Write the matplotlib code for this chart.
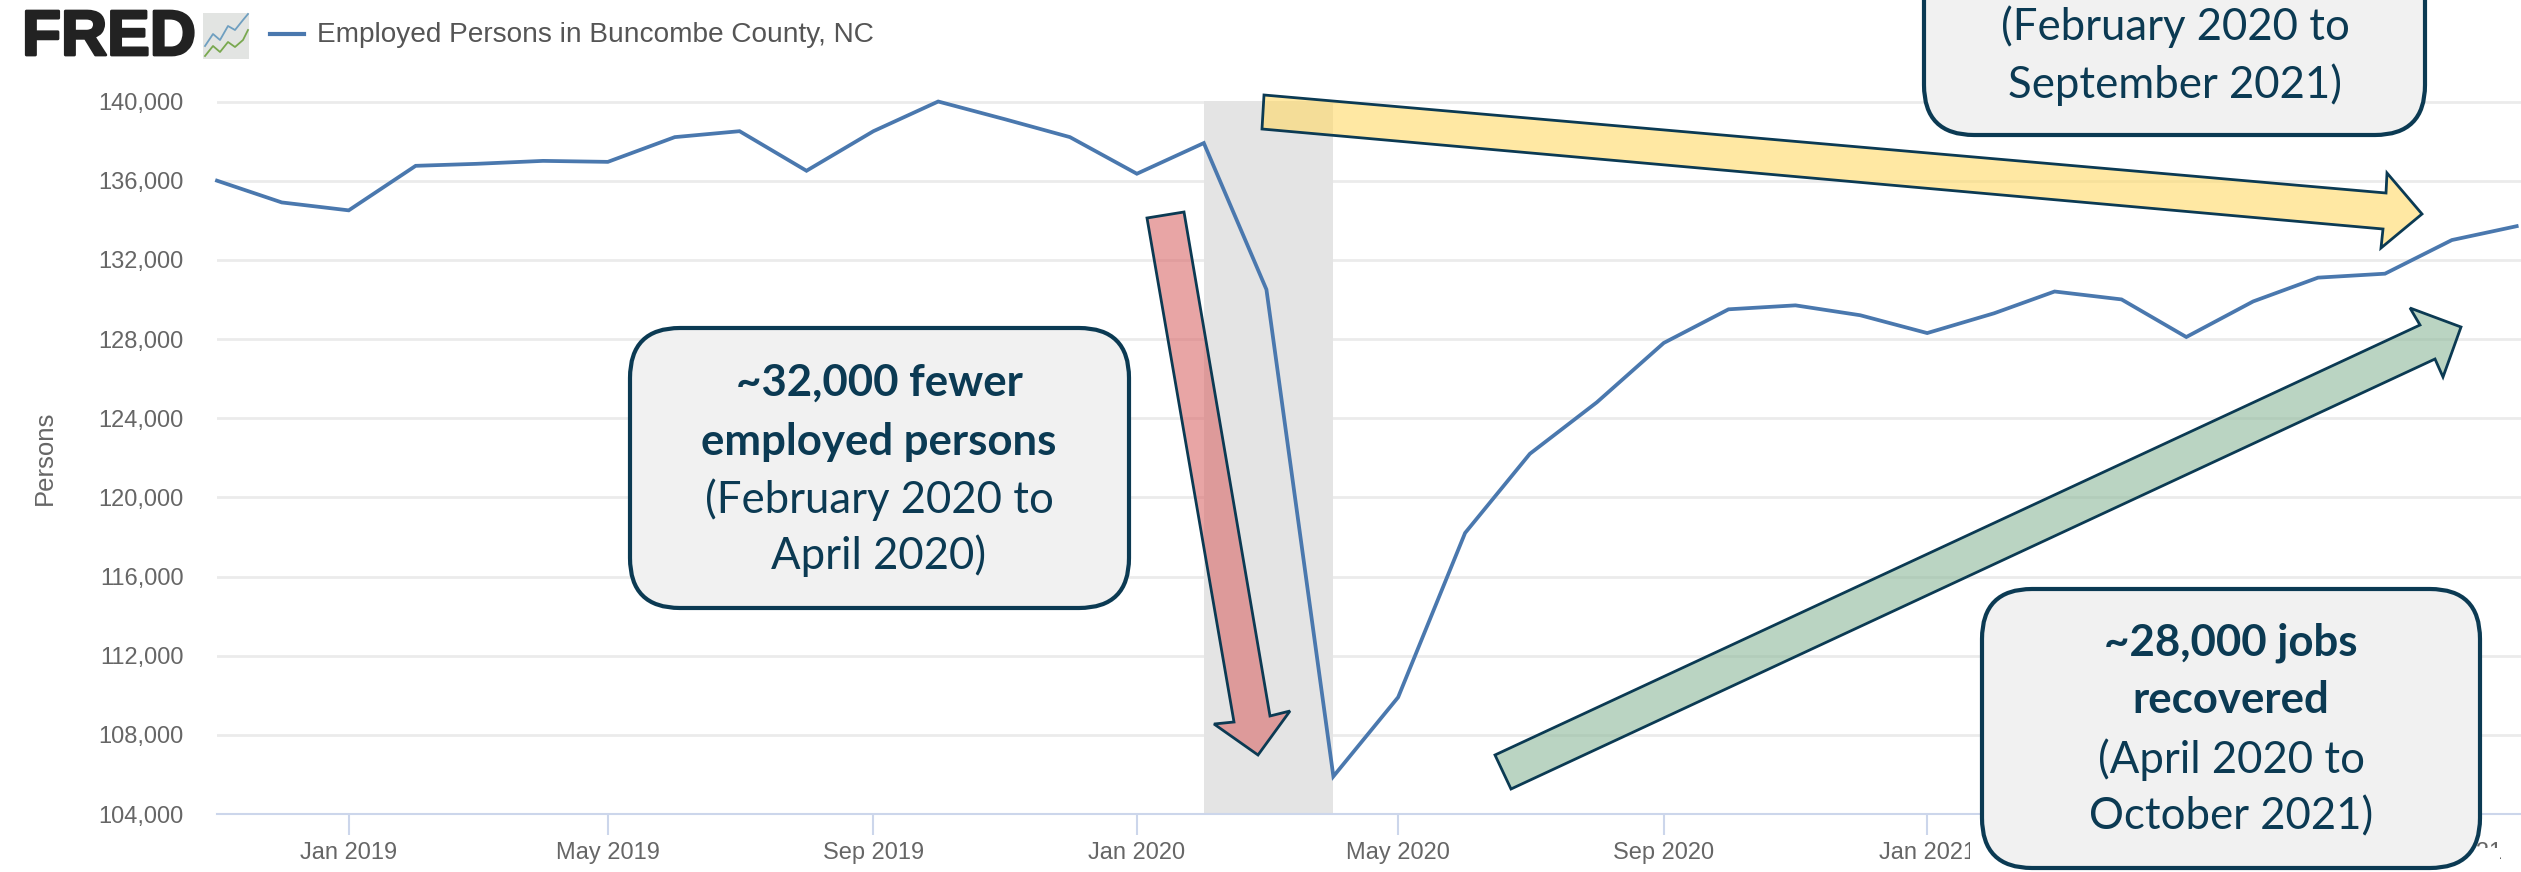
import matplotlib
matplotlib.use("Agg")
import matplotlib.pyplot as plt
import matplotlib.dates as mdates
import matplotlib.patheffects as pe
import pandas as pd
from matplotlib.patches import FancyBboxPatch, Polygon, Rectangle

W, H = 2521, 872

# monthly values, Nov 2018 - Oct 2021
months = pd.date_range("2018-11-01", "2021-10-01", freq="MS")
employed = [136000, 134900, 134500, 136750, 136850, 137000, 136950, 138200, 138500,
            136500, 138500, 140000, 139100, 138200, 136350, 137900, 130500, 105900,
            109900, 118200, 122200, 124800, 127800, 129500, 129700, 129200, 128300,
            129300, 130400, 130000, 128100, 129900, 131100, 131300, 133000, 133700]

y_ticks = list(range(104000, 140001, 4000))
x_ticks = pd.date_range("2019-01-01", "2021-09-01", freq="4MS")
recession = ("2020-02-01", "2020-04-01")

GRID = "#ebebeb"
AXIS = "#ccd6eb"
LINE = "#4a78ae"
TICK = "#666666"
NAVY = "#0b3a53"
BOX = "#f1f1f1"
sans = "Liberation Sans"
callout = "Lato"


def px(x, y):
    return x / W, 1 - y / H


fig = plt.figure(figsize=(W / 100, H / 100), dpi=100, facecolor="white")

# ---- chart
ax = fig.add_axes([217 / W, (H - 814) / H, (W - 217) / W, (814 - 101.5) / H])
ax.set_xlim(pd.Timestamp("2018-11-01"), pd.Timestamp("2021-10-03"))
ax.set_ylim(104000, 140000)
ax.set_axisbelow(True)
ax.grid(axis="y", color=GRID, lw=2)
ax.axvspan(pd.Timestamp(recession[0]), pd.Timestamp(recession[1]), color="#e4e4e4", lw=0, zorder=1.5)
ax.plot(months, employed, color=LINE, lw=2.7, zorder=3, clip_on=False, solid_joinstyle="miter")

for s in ["top", "right", "left"]:
    ax.spines[s].set_visible(False)
ax.spines["bottom"].set_color(AXIS)
ax.spines["bottom"].set_linewidth(1.5)

ax.set_yticks(y_ticks)
ax.set_yticklabels([f"{v:,}" for v in y_ticks], family=sans, fontsize=17, color=TICK)
ax.tick_params(axis="y", length=0, pad=24)
ax.set_xticks(x_ticks)
ax.xaxis.set_major_formatter(mdates.DateFormatter("%b %Y"))
ax.tick_params(axis="x", length=15, width=1.5, color=AXIS, pad=5, labelsize=17, labelcolor=TICK)
for t in ax.get_xticklabels():
    t.set_family(sans)

fig.text(*px(45, 458), "Persons", rotation=90, family=sans, fontsize=18.5, color=TICK, ha="center", va="center")

# ---- overlay in picture pixels: header, arrows, boxes
ov = fig.add_axes([0, 0, 1, 1], facecolor="none")
ov.set_xlim(0, W)
ov.set_ylim(H, 0)
ov.axis("off")

logo = ov.text(22, 38, "FRED", family=sans, weight="bold", fontsize=46, color="#222222", va="center", ha="left")
logo.set_path_effects([pe.withStroke(linewidth=2, foreground="#222222")])
ov.add_patch(Rectangle((203, 13), 46, 46, color="#e2e4e2", lw=0))
ov.plot([205, 213, 220, 228, 235, 243, 248], [46, 34, 40, 26, 30, 20, 14], color="#6f9fc0", lw=1.3)
ov.plot([205, 213, 220, 228, 235, 243, 248], [56, 46, 52, 42, 47, 40, 30], color="#79a84f", lw=1.3)
ov.plot([270, 304], [34, 34], color=LINE, lw=3)
ov.text(317, 35, "Employed Persons in Buncombe County, NC", family=sans, fontsize=20.2, color="#555555", va="center", ha="left")

arrows = [
    ([(1264, 95), (2386, 193), (2387, 173), (2422, 214), (2381, 248), (2383, 229), (1262, 129)], "#ffd966"),
    ([(1495, 755), (2420, 325), (2410, 308), (2461, 327), (2443, 377), (2435, 359), (1511, 789)], "#8db89a"),
    ([(1147, 218), (1234, 722), (1214, 724), (1258, 755), (1290, 711), (1270, 716), (1184, 212)], "#d9696a"),
]
for pts, col in arrows:
    ov.add_patch(Polygon(pts, closed=True, facecolor=matplotlib.colors.to_rgba(col, 0.6),
                         edgecolor=NAVY, lw=2, joinstyle="miter", zorder=4))

# white patch that hides the axis labels round the lower box
ov.add_patch(Rectangle((1970, 848), 530, 24, facecolor="white", lw=0, zorder=4.5))
ov.add_patch(Rectangle((1970, 815), 14, 57, facecolor="white", lw=0, zorder=4.5))

boxes = [(630, 328, 1129, 608), (1924, -60, 2425, 135), (1982, 589, 2480, 868)]
for x0, y0, x1, y1 in boxes:
    ov.add_patch(FancyBboxPatch((x0 + 50, y0 + 50), x1 - x0 - 100, y1 - y0 - 100,
                                boxstyle="round,pad=50,rounding_size=50", facecolor=BOX,
                                edgecolor=NAVY, lw=3, zorder=5))

labels = [
    (879, 383, "~32,000 fewer", "bold"),
    (879, 442, "employed persons", "bold"),
    (879, 500, "(February 2020 to", "normal"),
    (879, 556, "April 2020)", "normal"),
    (2175, 27, "(February 2020 to", "normal"),
    (2175, 85, "September 2021)", "normal"),
    (2231, 643, "~28,000 jobs", "bold"),
    (2231, 700, "recovered", "bold"),
    (2231, 760, "(April 2020 to", "normal"),
    (2231, 817, "October 2021)", "normal"),
]
for x, y, s, w in labels:
    ov.text(x, y, s, family=callout, weight=w, fontsize=31.5, color=NAVY, ha="center", va="center", zorder=6)

fig.savefig("out.png", dpi=100)
